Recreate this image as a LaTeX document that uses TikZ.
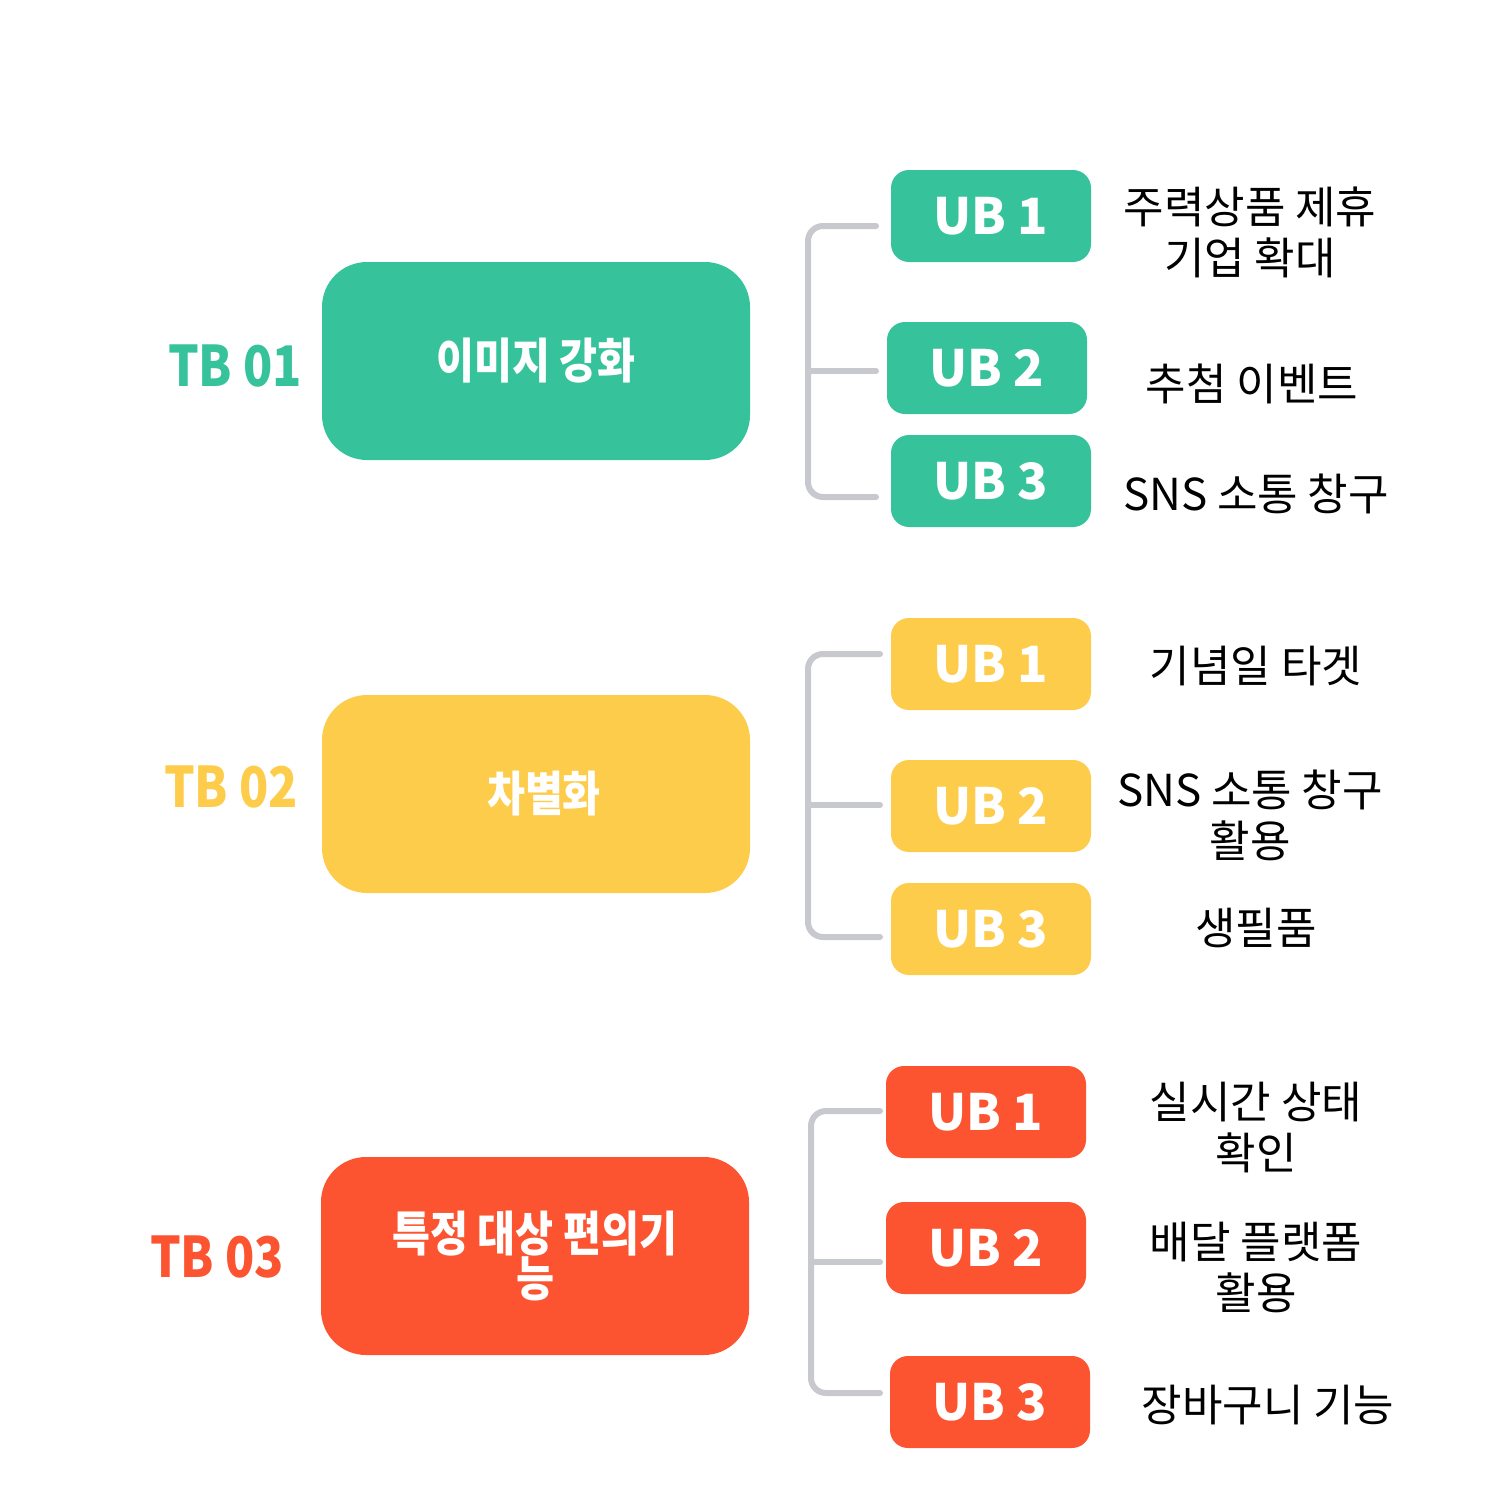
\documentclass[tikz,border=0pt]{standalone}
\usepackage{fontspec}
\setmainfont{Noto Sans CJK KR}
\newfontfamily\condfont{Noto Sans CJK KR}[FakeStretch=0.86]
\usetikzlibrary{positioning}
\definecolor{tealmain}{HTML}{36C39B}
\definecolor{yellowmain}{HTML}{FECC4B}
\definecolor{redmain}{HTML}{FC5431}
\definecolor{bracketgray}{HTML}{C8C9CE}
\tikzset{
  tblabel/.style={font=\condfont\bfseries\fontsize{56}{60}\selectfont},
  topbox/.style={rounded corners=45pt, minimum width=428pt, minimum height=198pt, inner sep=0pt, text=white, align=center, font=\condfont\bfseries\fontsize{48}{41}\selectfont},
  ubbox/.style={rounded corners=18pt, minimum width=200pt, minimum height=92pt, inner sep=0pt, text=white, font=\bfseries\fontsize{50}{54}\selectfont},
  desc/.style={align=center, font=\fontsize{44}{51}\selectfont},
  bracket/.style={bracketgray, line width=6pt, line cap=round, rounded corners=15pt}
}

\begin{document}
\begin{tikzpicture}[x=1pt, y=-1pt]
  \useasboundingbox (0,0) rectangle (1500,1500);
  % group 01
  \node[tblabel, text=tealmain] (tb1) at (235,366) {TB 01};
  \node[topbox, fill=tealmain] (main1) at (536,361) {\raisebox{-4pt}{이미지 강화}};
  \node[ubbox, fill=tealmain] (u11) at (991,216) {UB 1};
  \node[ubbox, fill=tealmain] (u12) at (987,368) {UB 2};
  \node[ubbox, fill=tealmain] (u13) at (991,481) {UB 3};
  \node[desc] (d11) at (1250,232) {주력상품 제휴\\기업 확대};
  \node[desc] (d12) at (1252,384) {추첨 이벤트};
  \node[desc] (d13) at (1256,494) {SNS 소통 창구};
  \coordinate (s11) at (876,226);
  \coordinate (s12) at (876,371);
  \coordinate (s13) at (876,497);
  \draw[bracket] (s11) -- (808,226) -- (808,497) -- (s13);
  \draw[bracket] (808,371) -- (s12);
  % group 02
  \node[tblabel, text=yellowmain] (tb2) at (231,787) {TB 02};
  \node[topbox, fill=yellowmain] (main2) at (536,794) {\hspace*{16pt}차별화};
  \node[ubbox, fill=yellowmain] (u21) at (991,664) {UB 1};
  \node[ubbox, fill=yellowmain] (u22) at (991,806) {UB 2};
  \node[ubbox, fill=yellowmain] (u23) at (991,929) {UB 3};
  \node[desc] (d21) at (1256,666) {기념일 타겟};
  \node[desc] (d22) at (1250,815) {SNS 소통 창구\\활용};
  \node[desc] (d23) at (1256,928) {생필품};
  \coordinate (s21) at (880,654);
  \coordinate (s22) at (880,805);
  \coordinate (s23) at (880,937);
  \draw[bracket] (s21) -- (808,654) -- (808,937) -- (s23);
  \draw[bracket] (808,805) -- (s22);
  % group 03
  \node[tblabel, text=redmain] (tb3) at (217,1257) {TB 03};
  \node[topbox, fill=redmain] (main3) at (535,1256) {특정 대상 편의기\\능};
  \node[ubbox, fill=redmain] (u31) at (986,1112) {UB 1};
  \node[ubbox, fill=redmain] (u32) at (986,1248) {UB 2};
  \node[ubbox, fill=redmain] (u33) at (990,1402) {UB 3};
  \node[desc] (d31) at (1256,1128) {실시간 상태\\확인};
  \node[desc] (d32) at (1256,1267) {배달 플랫폼\\활용};
  \node[desc] (d33) at (1268,1405) {장바구니 기능};
  \coordinate (s31) at (880,1111);
  \coordinate (s32) at (880,1262);
  \coordinate (s33) at (880,1393);
  \draw[bracket] (s31) -- (811,1111) -- (811,1393) -- (s33);
  \draw[bracket] (811,1262) -- (s32);
\end{tikzpicture}
\end{document}
